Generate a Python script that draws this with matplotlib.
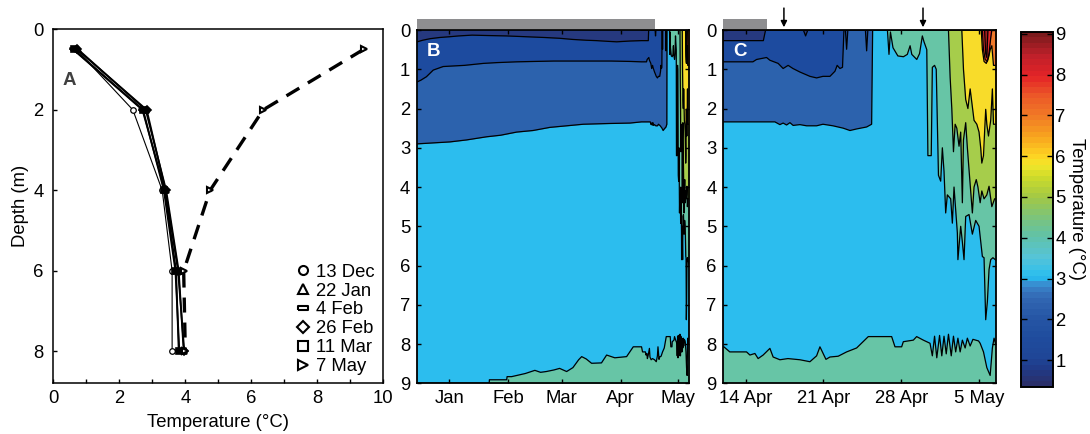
import numpy as np
import matplotlib
matplotlib.use('Agg')
import matplotlib.pyplot as plt
from matplotlib.colors import LinearSegmentedColormap, Normalize
from matplotlib.cm import ScalarMappable
from matplotlib.lines import Line2D
from matplotlib.ticker import MultipleLocator

plt.rcParams['font.family'] = ['Liberation Sans', 'DejaVu Sans']
plt.rcParams['font.size'] = 13.3

# ---------------- panel A: temperature profiles ----------------
depths = [0.5, 2, 4, 6, 8]
prof_13dec = [0.70, 2.41, 3.30, 3.60, 3.60]
prof_22jan = [0.75, 2.80, 3.42, 3.80, 3.95]
prof_4feb = [0.60, 2.70, 3.38, 3.72, 3.80]
prof_26feb = [0.72, 2.83, 3.40, 3.78, 3.97]
prof_11mar = [0.62, 2.72, 3.35, 3.70, 3.82]
prof_7may = [9.40, 6.36, 4.75, 3.95, 4.00]
prof_labels = ['13 Dec', '22 Jan', '4 Feb', '26 Feb', '11 Mar', '7 May']

# ---------------- panels B/C: isotherm depths (m) ----------------
# time in days since 1 Jan (negative = December)
# bottom of the coldest layer (navy)
t_c1 = [-16.8, -14, -10, -5, 0.4, 5, 12, 20, 30, 40, 50, 58, 65, 72, 77.4, 84, 88, 95,
        101, 104.6, 104.8, 108.2, 108.4, 108.6, 126.1]
d_c1 = [0.30, 0.26, 0.22, 0.19, 0.17, 0.15, 0.13, 0.14, 0.15, 0.17, 0.19, 0.21, 0.24, 0.26,
        0.27, 0.29, 0.30, 0.28, 0.27, 0.27, 0.0, 0.0, 0.15, 0.0, 0.0]
# bottom of the blue layer
t_c2 = [-16.8, -15, -12, -8.4, -3.2, 0.4, 8, 17.9, 25, 35.4, 45, 55, 70.4, 85, 95, 101,
        103.66, 103.99, 104.89, 105.19, 105.93, 106.38, 106.83, 107.26, 107.89, 108.79,
        109.39, 109.96, 110.59, 111.04, 111.24, 111.49, 111.72, 111.85, 111.98, 112.09,
        112.2, 113.78, 113.89, 114.0, 126.1]
d_c2 = [1.32, 1.28, 1.19, 1.02, 0.93, 0.92, 0.90, 0.85, 0.83, 0.81, 0.80, 0.79, 0.79, 0.79,
        0.80, 0.81, 0.81, 0.75, 0.70, 0.77, 0.85, 0.98, 0.90, 0.98, 1.07, 1.18, 1.22, 1.18,
        1.18, 1.05, 0.90, 0.98, 0.95, 0.0, 0.0, 0.49, 0.0, 0.0, 0.53, 0.0, 0.0]
# bottom of the medium-blue layer
t_c3 = [-16.8, -10, 0.4, 9.1, 19.6, 27, 35.4, 44, 52.9, 61.7, 70.4, 85, 95, 101, 105.64,
        106.09, 106.38, 106.69, 106.99, 107.28, 107.89, 108.49, 109.39, 109.96, 110.86,
        111.78, 112.39, 112.99, 113.89, 114.34, 114.43, 126.1]
d_c3 = [2.90, 2.88, 2.85, 2.80, 2.72, 2.68, 2.60, 2.56, 2.48, 2.44, 2.40, 2.38, 2.37, 2.34,
        2.34, 2.41, 2.37, 2.42, 2.36, 2.43, 2.41, 2.44, 2.44, 2.40, 2.44, 2.50, 2.56, 2.52,
        2.47, 2.40, 0.0, 0.0]
# top of the warmer bottom water
t_b4 = [-16.8, 21.0, 21.1, 30.2, 30.4, 32.8, 40, 45, 48, 51, 55, 58, 61.7, 65, 68, 69.6, 72,
        74.8, 80, 82.7, 87, 93.2, 96.7, 99, 101.05, 101.58, 103.09, 103.39, 103.84, 104.13,
        104.58, 105.19, 105.48, 106.09, 106.81, 107.89, 108.79, 109.39, 109.69, 110.23,
        110.59, 111.33, 112.09, 112.99, 114.04, 116.14, 116.44, 117.04, 117.19, 118.09,
        118.39, 118.99, 119.59, 119.8, 120.0, 120.2, 120.45, 120.65, 120.85, 121.05, 121.25,
        121.5, 121.7, 121.9, 122.1, 122.3, 122.5, 122.75, 122.95, 123.2, 123.45, 123.7,
        123.95, 124.1, 124.4, 124.7, 125.0, 125.2, 125.35, 125.5, 126.1]
d_b4 = [9.0, 9.0, 8.91, 8.91, 8.83, 8.83, 8.75, 8.67, 8.72, 8.70, 8.66, 8.62, 8.70, 8.60,
        8.40, 8.32, 8.38, 8.49, 8.48, 8.28, 8.35, 8.32, 8.07, 8.07, 8.07, 8.20, 8.20, 8.28,
        8.24, 8.37, 8.28, 8.11, 8.33, 8.40, 8.37, 8.40, 8.45, 8.30, 8.07, 8.39, 8.33, 8.31,
        8.20, 8.10, 7.81, 7.81, 8.07, 8.07, 7.94, 7.90, 7.81, 7.90, 7.98, 8.30, 7.80, 8.35,
        7.78, 8.30, 7.80, 8.25, 7.75, 8.30, 7.80, 8.20, 7.85, 8.20, 7.90, 8.10, 7.85, 8.05,
        7.88, 7.90, 7.92, 7.98, 8.20, 8.60, 8.80, 8.10, 7.85, 8.00, 8.00]
# bottoms of the warm surface layers (spring)
t_w4 = [101, 115.7, 115.76, 115.9, 116.03, 116.26, 116.7, 117.2, 117.55, 117.8, 117.95,
        118.4, 118.65, 118.9, 119.05, 119.3, 119.4, 119.7, 119.8, 120.0, 120.15, 120.35,
        120.55, 120.7, 120.85, 121.0, 121.15, 121.45, 121.6, 121.75, 122.05, 122.1, 122.35,
        122.5, 122.65, 122.8, 123.1, 123.4, 123.7, 124.0, 124.3, 124.45, 124.6, 124.75,
        124.9, 125.05, 125.25, 126.1]
d_w4 = [0.0, 0.0, 0.0, 0.62, 0.05, 0.45, 0.66, 0.68, 0.62, 0.40, 0.62, 0.75, 0.60, 0.15,
        0.30, 0.50, 3.20, 3.20, 0.95, 0.90, 1.00, 3.70, 3.85, 3.00, 3.60, 4.66, 4.20, 4.30,
        4.92, 4.00, 5.17, 5.85, 5.00, 5.40, 5.85, 4.75, 4.70, 5.20, 4.85, 5.00, 5.77, 5.80,
        7.38, 6.92, 6.10, 5.85, 5.80, 6.00]
t_w5 = [101, 121.25, 121.4, 121.55, 121.7, 121.85, 122.0, 122.2, 122.35, 122.5, 122.6,
        122.8, 122.95, 123.1, 123.4, 123.55, 123.75, 123.9, 124.1, 124.25, 124.45, 124.7,
        124.9, 125.15, 125.4, 126.1]
d_w5 = [0.0, 0.0, 1.2, 2.0, 3.1, 2.4, 2.5, 2.96, 2.6, 4.4, 2.8, 2.36, 3.0, 3.56, 4.66, 4.0,
        3.81, 4.0, 4.4, 4.1, 4.3, 4.2, 3.98, 4.5, 4.3, 4.3]
t_w6 = [101, 122.45, 122.6, 122.8, 123.0, 123.2, 123.55, 123.8, 124.0, 124.15, 124.25,
        124.4, 124.5, 124.6, 124.7, 124.85, 125.05, 125.2, 125.3, 126.1]
d_w6 = [0.0, 0.0, 1.0, 1.77, 2.0, 1.5, 2.3, 2.4, 2.6, 3.0, 3.39, 3.2, 2.6, 2.02, 2.4, 2.7,
        2.3, 1.5, 2.4, 2.4]
t_w7 = [101, 124.2, 124.3, 124.45, 124.65, 124.85, 125.0, 125.15, 125.3, 126.1]
d_w7 = [0.0, 0.0, 0.5, 0.8, 0.85, 0.7, 0.5, 0.4, 0.9, 0.9]
t_w8 = [101, 124.3, 124.4, 124.55, 124.75, 124.9, 125.05, 125.15, 126.1]
d_w8 = [0.0, 0.0, 0.5, 0.75, 0.8, 0.6, 0.2, 0.0, 0.0]
t_w9 = [101, 124.5, 124.6, 124.7, 124.8, 126.1]
d_w9 = [0.0, 0.0, 0.6, 0.7, 0.0, 0.0]

# ice cover bars and sampling arrows
ice_B = (-16.8, 108.1)
ice_C = (101.0, 104.9)
arrow_days = [106.45, 118.96]

# month ticks
ticks_B = [0, 31, 59, 90, 120]
labels_B = ['Jan', 'Feb', 'Mar', 'Apr', 'May']
ticks_C = [103, 110, 117, 124]
labels_C = ['14 Apr', '21 Apr', '28 Apr', '5 May']

# colours
col_navy, col_blue, col_mblue = '#26397f', '#1d4b9f', '#2c62ad'
col_cyan, col_teal, col_green = '#2cbdee', '#67c5a6', '#a6cd4b'
col_yellow, col_orange, col_red, col_dred = '#f8dc2a', '#f0792a', '#e32a2a', '#a01e1e'

cb_vals = [0.35, 0.8, 1.0, 1.5, 2.0, 2.5, 2.8, 3.0, 3.5, 4.0, 4.5, 5.0, 5.5, 5.8, 6.0, 6.5,
           7.0, 7.5, 8.0, 8.5, 9.05]
cb_cols = ['#2a2f6a', '#1f3c8c', '#1f4696', '#1f4c9e', '#2656a5', '#3268b3', '#3a86cc',
           '#27bdf0', '#55c4d8', '#60c2aa', '#7cc47a', '#a2c845', '#cedc2a', '#f2e62a',
           '#fdd523', '#f8a51e', '#f17b25', '#ec5a28', '#e42427', '#c0202a', '#7c1a1c']

fig = plt.figure(figsize=(10.9, 4.34), dpi=100)

# ---------------- A ----------------
axA = fig.add_axes([0.0489, 0.1168, 0.3028, 0.8157])
thin = dict(color='k', lw=0.8, ms=4, mfc='white', mec='k', mew=0.9)
thick = dict(color='k', lw=1.3, ms=4, mfc='k', mec='k', mew=1.2)
rect_marker = [(-1, -0.45), (1, -0.45), (1, 0.45), (-1, 0.45), (-1, -0.45)]
axA.plot(prof_13dec, depths, marker='o', **thin)
axA.plot(prof_22jan, depths, marker='^', **thick)
axA.plot(prof_4feb, depths, marker=rect_marker, **thick)
axA.plot(prof_26feb, depths, marker='D', **thick)
axA.plot(prof_11mar, depths, marker='s', **thick)
axA.plot(prof_7may, depths, marker='>', color='k', lw=2.4, ls=(0, (4.5, 3)),
         ms=5, mfc='white', mec='k', mew=1.5)
axA.set_xlim(0, 10)
axA.set_ylim(8.79, 0)
axA.xaxis.set_major_locator(MultipleLocator(2))
axA.xaxis.set_minor_locator(MultipleLocator(1))
axA.set_yticks([0, 2, 4, 6, 8])
axA.tick_params(which='both', direction='in', length=3, width=1)
axA.tick_params(axis='y', pad=7)
axA.tick_params(axis='x', pad=5)
axA.set_xlabel('Temperature (°C)', labelpad=5)
axA.set_ylabel('Depth (m)', labelpad=3)
axA.text(0.027, 0.855, 'A', transform=axA.transAxes, fontsize=13.5, fontweight='bold',
         color='#404040', ha='left', va='center')

markers = ['o', '^', rect_marker, 'D', 's', '>']
handles = [Line2D([], [], ls='none', marker=m, ms=6.5, mfc='white', mec='k', mew=1.5)
           for m in markers]
axA.legend(handles, prof_labels, loc='lower right', bbox_to_anchor=(1.0, 0.0),
           frameon=False, handlelength=0.6, handletextpad=0.45, labelspacing=0.1,
           borderaxespad=0.05, fontsize=13.3)
for s in axA.spines.values():
    s.set_linewidth(1.1)

# ---------------- B and C ----------------
axB = fig.add_axes([0.3828, 0.1168, 0.2495, 0.8140])
axC = fig.add_axes([0.6636, 0.1168, 0.2499, 0.8140])

for ax in [axB, axC]:
    ax.fill_between(t_c3, 0, 9, color=col_cyan, lw=0)
    ax.fill_between(t_b4, d_b4, 9, color=col_teal, lw=0)
    ax.fill_between(t_c3, 0, d_c3, color=col_mblue, lw=0)
    ax.fill_between(t_c2, 0, d_c2, color=col_blue, lw=0)
    ax.fill_between(t_c1, 0, d_c1, color=col_navy, lw=0)
    ax.fill_between(t_w4, 0, d_w4, color=col_teal, lw=0)
    ax.fill_between(t_w5, 0, d_w5, color=col_green, lw=0)
    ax.fill_between(t_w6, 0, d_w6, color=col_yellow, lw=0)
    ax.fill_between(t_w7, 0, d_w7, color=col_orange, lw=0)
    ax.fill_between(t_w8, 0, d_w8, color=col_red, lw=0)
    ax.fill_between(t_w9, 0, d_w9, color=col_dred, lw=0)
    for t, d in [(t_c1, d_c1), (t_c2, d_c2), (t_c3, d_c3), (t_b4, d_b4), (t_w4, d_w4),
                 (t_w5, d_w5), (t_w6, d_w6), (t_w7, d_w7), (t_w8, d_w8), (t_w9, d_w9)]:
        ax.plot(t, d, color='k', lw=0.9)
    ax.set_ylim(9, 0)
    ax.set_yticks(range(0, 10))
    ax.tick_params(which='both', direction='in', length=3, width=1,
                   top=True, right=True, pad=5)
    for s in ax.spines.values():
        s.set_linewidth(1.3)

axB.set_xlim(-16.8, 126.1)
axB.set_xticks(ticks_B)
axB.set_xticklabels(labels_B)
axC.set_xlim(101.0, 125.5)
axC.set_xticks(ticks_C)
axC.set_xticklabels(labels_C)

axB.text(0.036, 0.938, 'B', transform=axB.transAxes, fontsize=13.5, fontweight='bold',
         color='white', ha='left', va='center')
axC.text(0.036, 0.938, 'C', transform=axC.transAxes, fontsize=13.5, fontweight='bold',
         color='white', ha='left', va='center')

# ice cover bars above the panels
axB.add_patch(plt.Rectangle((ice_B[0], 1.003), ice_B[1] - ice_B[0], 0.028,
                            transform=axB.get_xaxis_transform(), clip_on=False,
                            color='#8e8e90', lw=0))
axC.add_patch(plt.Rectangle((ice_C[0], 1.003), ice_C[1] - ice_C[0], 0.028,
                            transform=axC.get_xaxis_transform(), clip_on=False,
                            color='#8e8e90', lw=0))
for day in arrow_days:
    axC.annotate('', xy=(day, 1.0), xycoords=axC.get_xaxis_transform(),
                 xytext=(day, 1.07), textcoords=axC.get_xaxis_transform(),
                 arrowprops=dict(arrowstyle='-|>', color='k', lw=1.1, mutation_scale=9),
                 annotation_clip=False)

# ---------------- colour bar ----------------
pos = [(v - cb_vals[0]) / (cb_vals[-1] - cb_vals[0]) for v in cb_vals]
cmap = LinearSegmentedColormap.from_list('lake', list(zip(pos, cb_cols)), N=64)
norm = Normalize(cb_vals[0], cb_vals[-1])
cax = fig.add_axes([0.9364, 0.109, 0.0294, 0.818])
cb = fig.colorbar(ScalarMappable(norm=norm, cmap=cmap), cax=cax, ticks=range(1, 10))
cb.outline.set_linewidth(1.4)
cax.tick_params(direction='in', left=True, right=True, length=4, width=1, pad=2)
cb.set_label('Temperature (°C)', rotation=270, labelpad=14)

fig.savefig('out.png', dpi=100)
